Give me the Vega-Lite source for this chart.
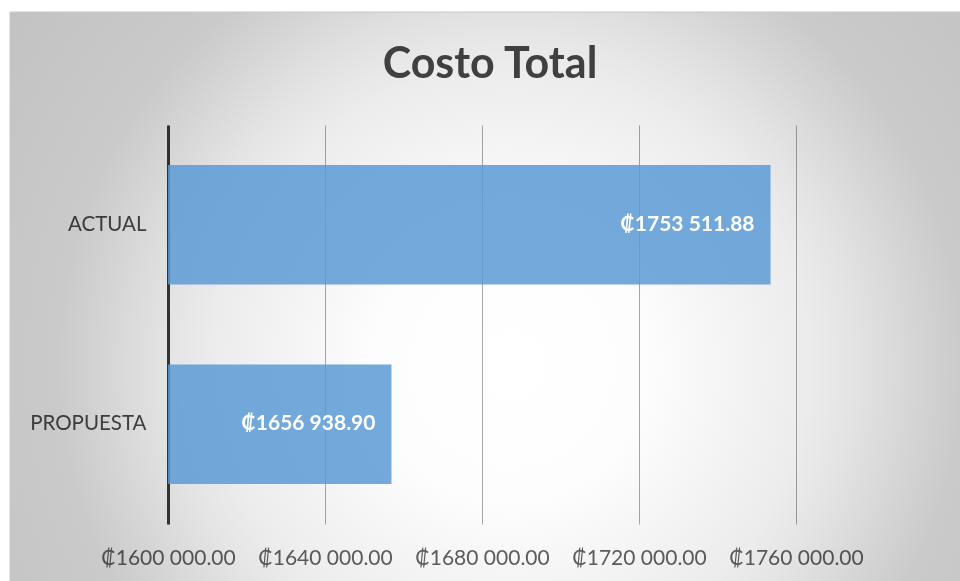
{
  "$schema": "https://vega.github.io/schema/vega-lite/v6.json",
  "autosize": {"type": "none"},
  "width": 628,
  "height": 399,
  "padding": {"left": 168, "top": 125, "right": 164, "bottom": 57},
  "background": "#ffffff",
  "title": {
    "text": "Costo Total",
    "font": "Lato",
    "fontSize": 43,
    "fontWeight": "bold",
    "color": "#404040",
    "anchor": "middle",
    "frame": "group",
    "baseline": "alphabetic",
    "offset": -109,
    "dx": 8
  },
  "config": {
    "view": {"stroke": null},
    "font": "Lato"
  },
  "layer": [
    {
      "data": {"values": [{"fondo": "degradado"}]},
      "mark": {
        "type": "rect",
        "blend": "multiply",
        "clip": false,
        "stroke": "#c8c8c8",
        "strokeWidth": 1,
        "fill": {
          "gradient": "radial",
          "x1": 0.521, "y1": 0.368, "r1": 0,
          "x2": 0.521, "y2": 0.368, "r2": 0.646,
          "stops": [
            {"offset": 0, "color": "#ffffff"},
            {"offset": 0.22, "color": "#fdfdfd"},
            {"offset": 0.48, "color": "#ececec"},
            {"offset": 0.55, "color": "#e4e4e4"},
            {"offset": 0.73, "color": "#cacaca"},
            {"offset": 1, "color": "#c2c2c2"}
          ]
        }
      },
      "encoding": {
        "x": {"datum": 1559745, "type": "quantitative"},
        "x2": {"datum": 1804331},
        "y": {"datum": 1.2832, "type": "quantitative", "scale": {"domain": [0, 1], "nice": false, "zero": false}, "axis": null},
        "y2": {"datum": -1.1228}
      }
    },
    {
      "data": {
        "values": [
          {"escenario": "ACTUAL", "costo": 1753511.88, "etiqueta": "₡1753 511.88"},
          {"escenario": "PROPUESTA", "costo": 1656938.90, "etiqueta": "₡1656 938.90"}
        ]
      },
      "encoding": {
        "y": {
          "field": "escenario",
          "type": "nominal",
          "sort": ["ACTUAL", "PROPUESTA"],
          "scale": {"paddingInner": 0.4, "paddingOuter": 0.2},
          "axis": {
            "title": null,
            "ticks": false,
            "domainColor": "#3a3a3a",
            "domainWidth": 3,
            "labelFont": "Lato",
            "labelFontSize": 20.5,
            "labelColor": "#4a4a4a",
            "labelPadding": 22
          }
        }
      },
      "layer": [
        {
          "mark": {"type": "bar", "color": "#5b9bd5", "opacity": 0.85, "clip": true},
          "encoding": {
            "x": {
              "field": "costo",
              "type": "quantitative",
              "scale": {"domain": [1600000, 1760000], "nice": false, "zero": false},
              "axis": {
                "title": null,
                "values": [1600000, 1640000, 1680000, 1720000, 1760000],
                "domain": false,
                "ticks": false,
                "grid": true,
                "gridColor": "#a8a8a8",
                "gridWidth": 1,
                "labelOverlap": false,
                "labelFlush": false,
                "labelFont": "Lato",
                "labelFontSize": 21,
                "labelColor": "#606060",
                "labelPadding": 23,
                "labelExpr": "'₡' + slice(format(datum.value, '.2f'), 0, -6) + ' ' + slice(format(datum.value, '.2f'), -6)"
              }
            }
          }
        },
        {
          "mark": {"type": "text", "align": "right", "baseline": "middle", "dx": -16, "font": "Lato", "fontSize": 21, "fontWeight": "bold", "color": "#ffffff"},
          "encoding": {
            "x": {"field": "costo", "type": "quantitative"},
            "text": {"field": "etiqueta"}
          }
        }
      ]
    }
  ],
  "resolve": {"scale": {"y": "independent"}, "axis": {"y": "independent"}}
}
